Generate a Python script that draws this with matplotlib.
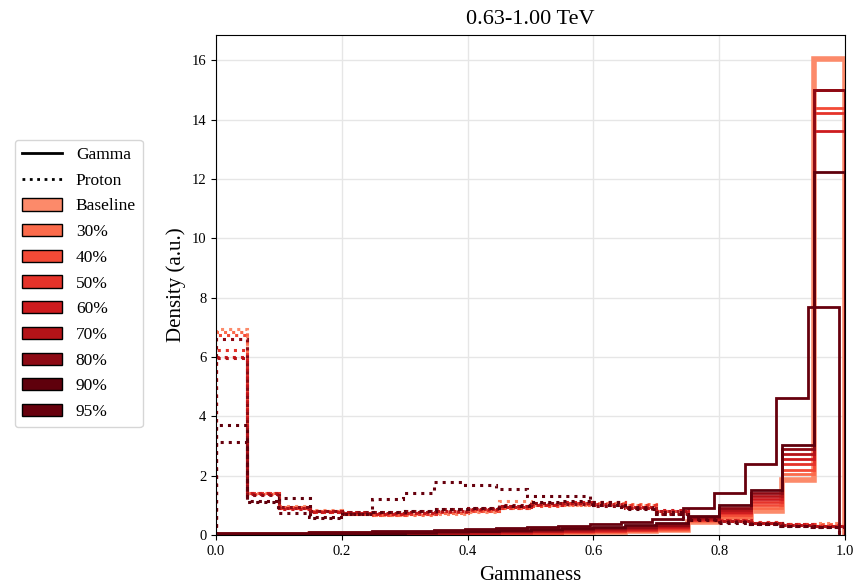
import numpy as np
import matplotlib
matplotlib.use("Agg")
import matplotlib.pyplot as plt
from matplotlib.lines import Line2D
from matplotlib.patches import Patch

plt.rcParams['font.family'] = 'serif'
plt.rcParams['font.serif'] = ['Liberation Serif', 'DejaVu Serif']

title = "0.63-1.00 TeV"
labels = ["Baseline", "30%", "40%", "50%", "60%", "70%", "80%", "90%", "95%"]
colors = ["#fc8a6a", "#fb6b4b", "#f34a36", "#e5332a", "#cd1b1e", "#b41318",
          "#8d0a14", "#5f000c", "#67000d"]

# upper end of the bin range for each selection (last one stops a bit before 1)
range_max = [1.0, 1.0, 1.0, 1.0, 1.0, 1.0, 1.0, 1.0, 0.99]

# gamma densities, 20 bins
gamma = [
    [0.01, 0.01, 0.01, 0.02, 0.02, 0.02, 0.03, 0.03, 0.04, 0.05, 0.06, 0.07, 0.09, 0.12, 0.16, 0.45, 0.55, 0.80, 1.85, 16.05],
    [0.01, 0.01, 0.02, 0.02, 0.02, 0.03, 0.03, 0.04, 0.05, 0.06, 0.07, 0.09, 0.11, 0.14, 0.18, 0.48, 0.62, 0.92, 2.05, 15.00],
    [0.01, 0.02, 0.02, 0.02, 0.03, 0.03, 0.04, 0.05, 0.06, 0.07, 0.08, 0.10, 0.13, 0.16, 0.21, 0.50, 0.68, 1.01, 2.20, 14.38],
    [0.02, 0.02, 0.02, 0.03, 0.03, 0.04, 0.05, 0.06, 0.07, 0.08, 0.10, 0.12, 0.15, 0.18, 0.24, 0.52, 0.73, 1.12, 2.38, 14.22],
    [0.02, 0.02, 0.03, 0.03, 0.04, 0.05, 0.06, 0.07, 0.08, 0.10, 0.12, 0.14, 0.17, 0.21, 0.27, 0.55, 0.78, 1.20, 2.55, 13.60],
    [0.02, 0.03, 0.03, 0.04, 0.05, 0.06, 0.07, 0.08, 0.10, 0.12, 0.14, 0.16, 0.19, 0.24, 0.30, 0.58, 0.85, 1.30, 2.72, 15.00],
    [0.03, 0.03, 0.04, 0.05, 0.06, 0.07, 0.08, 0.10, 0.12, 0.14, 0.16, 0.19, 0.22, 0.27, 0.34, 0.62, 0.90, 1.42, 2.90, 15.00],
    [0.04, 0.04, 0.05, 0.06, 0.07, 0.08, 0.10, 0.12, 0.14, 0.17, 0.20, 0.24, 0.28, 0.34, 0.42, 0.65, 1.00, 1.52, 3.05, 12.23],
    [0.07, 0.07, 0.08, 0.09, 0.10, 0.12, 0.15, 0.18, 0.20, 0.25, 0.28, 0.32, 0.38, 0.45, 0.55, 0.90, 1.40, 2.39, 4.62, 7.70],
]

# proton densities, 20 bins
proton = [
    [6.93, 1.42, 0.98, 0.85, 0.72, 0.68, 0.70, 0.72, 0.78, 1.14, 1.02, 1.00, 1.08, 1.00, 0.75, 0.55, 0.48, 0.42, 0.38, 0.40],
    [6.85, 1.40, 0.95, 0.82, 0.70, 0.66, 0.68, 0.74, 0.80, 0.92, 1.05, 1.02, 1.12, 1.05, 0.78, 0.58, 0.50, 0.44, 0.38, 0.36],
    [6.75, 1.38, 0.92, 0.80, 0.72, 0.68, 0.70, 0.76, 0.82, 0.90, 0.98, 1.05, 1.10, 1.02, 0.80, 0.60, 0.50, 0.42, 0.36, 0.34],
    [6.25, 1.42, 0.90, 0.78, 0.74, 0.70, 0.72, 0.78, 0.84, 0.92, 1.00, 1.08, 1.12, 1.00, 0.82, 0.62, 0.52, 0.44, 0.38, 0.32],
    [6.00, 1.40, 0.88, 0.78, 0.75, 0.72, 0.74, 0.80, 0.86, 0.95, 1.02, 1.10, 1.05, 0.95, 0.85, 0.60, 0.50, 0.42, 0.36, 0.30],
    [5.95, 1.38, 0.90, 0.80, 0.76, 0.74, 0.76, 0.82, 0.88, 0.98, 1.05, 1.08, 1.00, 0.92, 0.80, 0.58, 0.48, 0.40, 0.34, 0.30],
    [6.60, 1.35, 0.95, 0.82, 0.78, 0.78, 0.80, 0.86, 0.92, 1.00, 1.08, 1.05, 0.98, 0.90, 0.72, 0.55, 0.46, 0.40, 0.32, 0.28],
    [3.72, 1.12, 1.24, 0.58, 0.72, 0.78, 0.82, 0.88, 0.92, 0.98, 1.10, 1.15, 1.00, 0.88, 0.70, 0.50, 0.42, 0.36, 0.30, 0.26],
    [3.12, 1.15, 0.75, 0.60, 0.72, 1.20, 1.40, 1.77, 1.70, 1.54, 1.32, 1.32, 1.12, 0.95, 0.78, 0.55, 0.45, 0.38, 0.32, 0.28],
]

fig = plt.figure(figsize=(8.67, 5.84), dpi=100)
ax = fig.add_axes([216/867, 1-535/584, 629/867, 500/584])

for i in range(len(labels)):
    edges = np.linspace(0, range_max[i], len(gamma[i]) + 1)
    lw = 4 if i == 0 else 2
    ax.stairs(gamma[i], edges, color=colors[i], lw=lw, linestyle='-')
    ax.stairs(proton[i], edges, color=colors[i], lw=2.2, linestyle=':')

ax.set_xlim(0, 1)
ax.set_ylim(bottom=0)
ax.set_yticks(np.arange(0, 17, 2))
ax.grid(True, color='#e6e6e6', lw=1)
ax.set_axisbelow(True)
ax.tick_params(labelsize=10.5)
ax.set_xlabel("Gammaness", fontsize=15, labelpad=6)
ax.set_ylabel("Density (a.u.)", fontsize=15)
ax.set_title(title, fontsize=16, pad=8)

handles = [Line2D([], [], color='black', lw=2, linestyle='-', label='Gamma'),
           Line2D([], [], color='black', lw=2, linestyle=':', label='Proton')]
for lab, c in zip(labels, colors):
    handles.append(Patch(facecolor=c, edgecolor='black', label=lab))
fig.legend(handles=handles, loc='upper left', bbox_to_anchor=(15/867, 1-140/584),
           borderaxespad=0, fontsize=12.5, handlelength=2.3, labelspacing=0.55,
           frameon=True)

fig.savefig("out.png", dpi=100)
